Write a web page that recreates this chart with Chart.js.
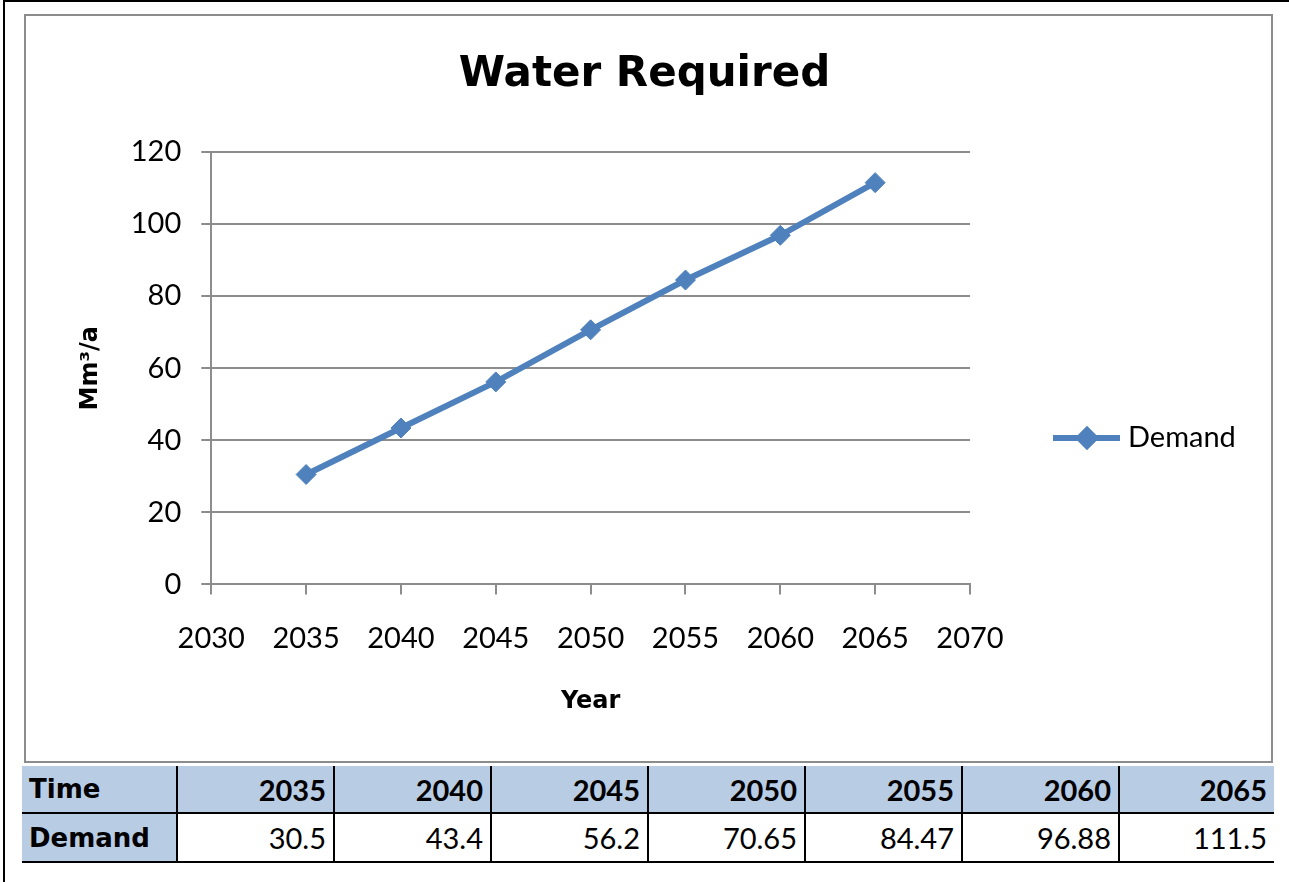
<!DOCTYPE html>
<html>
<head>
<meta charset="utf-8">
<title>Water Required</title>
<script src="https://cdn.jsdelivr.net/npm/chart.js"></script>
<style>
    body { margin: 0; background: #fff; font-family: Lato, "Open Sans", sans-serif; }
    #frame {
        position: absolute; left: 3px; top: 0; width: 1286px; height: 882px;
        border-left: 2px solid #000; border-top: 2px solid #000; box-sizing: border-box;
    }
    #chartBox {
        position: absolute; left: 24px; top: 14px; width: 1249px; height: 749px;
        border: 2px solid #8c8c8c; box-sizing: border-box;
    }
    #chartBox canvas { display: block; }
    #chartTitle {
        position: absolute; left: 0; top: 47px; width: 1289px; text-align: center;
        font: bold 42px "DejaVu Sans", sans-serif; line-height: 50px; color: #000;
    }
    #dataTable {
        position: absolute; left: 22px; top: 766px;
        border-collapse: collapse; table-layout: fixed; width: 1250px;
        font-size: 29px; color: #000;
    }
    #dataTable td {
        padding: 0 7px; text-align: right; white-space: nowrap;
        border-left: 2px solid #000; border-bottom: 2px solid #000;
    }
    #dataTable td:first-child {
        text-align: left; border-left: none; background: #b8cce4;
        font: bold 26px "DejaVu Sans", sans-serif;
    }
    #dataTable tr.head td { background: #b8cce4; font-weight: bold; height: 46px; }
    #dataTable tr.vals td { height: 47px; }
</style>
</head>
<body>
<div id="frame"></div>
<div id="chartBox">
    <canvas id="myChart" width="1245" height="745"></canvas>
</div>
<div id="chartTitle">Water Required</div>
<table id="dataTable"></table>

<script>
const years = [2035, 2040, 2045, 2050, 2055, 2060, 2065];
const demand = [30.5, 43.4, 56.2, 70.65, 84.47, 96.88, 111.5];
const rowLabels = ['Time', 'Demand'];
const seriesName = 'Demand';

const xMin = 2030, xMax = 2070, xStep = 5;
const yMin = 0, yMax = 120, yStep = 20;

const lineColor = '#4f81bd';
const gridColor = '#8c8c8c';

// table under the chart
function buildTable() {
    const table = document.getElementById('dataTable');
    let html = '<colgroup><col style="width:155px">';
    for (let i = 0; i < years.length; i++) {
        html += '<col style="width:' + (i === years.length - 1 ? 155 : 157) + 'px">';
    }
    html += '</colgroup>';
    html += '<tr class="head"><td>' + rowLabels[0] + '</td>';
    years.forEach(y => { html += '<td>' + y + '</td>'; });
    html += '</tr><tr class="vals"><td>' + rowLabels[1] + '</td>';
    demand.forEach(v => { html += '<td>' + v + '</td>'; });
    html += '</tr>';
    table.innerHTML = html;
}

// legend: line with diamond marker, at the right of the plot
const sideLegend = {
    id: 'sideLegend',
    afterDraw(chart) {
        const ctx = chart.ctx;
        const ds = chart.data.datasets[0];
        const x0 = chart.chartArea.right + 83;
        const y0 = chart.chartArea.top + 286;
        ctx.save();
        ctx.strokeStyle = ds.borderColor;
        ctx.lineWidth = ds.borderWidth;
        ctx.beginPath();
        ctx.moveTo(x0, y0);
        ctx.lineTo(x0 + 67, y0);
        ctx.stroke();
        ctx.fillStyle = ds.pointBackgroundColor;
        ctx.strokeStyle = ds.pointBorderColor;
        Chart.helpers.drawPoint(ctx, { pointStyle: 'rectRot', radius: 8, borderWidth: 1 }, x0 + 34, y0);
        ctx.fillStyle = '#000';
        ctx.font = '29px Lato';
        ctx.textAlign = 'left';
        ctx.textBaseline = 'middle';
        ctx.fillText(ds.label, x0 + 75, y0);
        ctx.restore();
    }
};

function createChart() {
    const points = years.map((y, i) => ({ x: y, y: demand[i] }));
    const ctx = document.getElementById('myChart').getContext('2d');
    new Chart(ctx, {
        type: 'line',
        data: {
            datasets: [{
                label: seriesName,
                data: points,
                borderColor: lineColor,
                borderWidth: 6,
                pointStyle: 'rectRot',
                pointRadius: 10,
                pointBackgroundColor: lineColor,
                pointBorderColor: lineColor,
                pointBorderWidth: 1,
                fill: false,
                tension: 0
            }]
        },
        options: {
            responsive: false,
            animation: false,
            layout: {
                padding: { top: 136, left: 10, right: 301, bottom: 45 }
            },
            plugins: {
                legend: { display: false },
                tooltip: { enabled: false },
                title: { display: false }
            },
            scales: {
                x: {
                    type: 'linear',
                    min: xMin,
                    max: xMax,
                    border: { display: true, color: gridColor, width: 2 },
                    grid: { drawOnChartArea: false, drawTicks: true, tickLength: 10, color: gridColor, lineWidth: 2 },
                    ticks: {
                        stepSize: xStep,
                        color: '#000',
                        padding: 27,
                        maxRotation: 0,
                        font: { family: 'Lato', size: 29 },
                        callback: v => String(v)
                    },
                    title: {
                        display: true,
                        text: 'Year',
                        color: '#000',
                        font: { family: 'DejaVu Sans', size: 24, weight: 'bold' },
                        padding: { top: 4, bottom: 0 }
                    }
                },
                y: {
                    min: yMin,
                    max: yMax,
                    border: { display: true, color: gridColor, width: 2 },
                    grid: { drawTicks: true, tickLength: 10, color: gridColor, lineWidth: 2 },
                    ticks: {
                        stepSize: yStep,
                        color: '#000',
                        padding: 20,
                        font: { family: 'Lato', size: 29 }
                    },
                    title: {
                        display: true,
                        text: 'Mm³/a',
                        color: '#000',
                        font: { family: 'DejaVu Sans', size: 24, weight: 'bold' },
                        padding: { top: 40, bottom: 6 }
                    }
                }
            }
        },
        plugins: [sideLegend]
    });
}

buildTable();
createChart();
</script>
</body>
</html>
